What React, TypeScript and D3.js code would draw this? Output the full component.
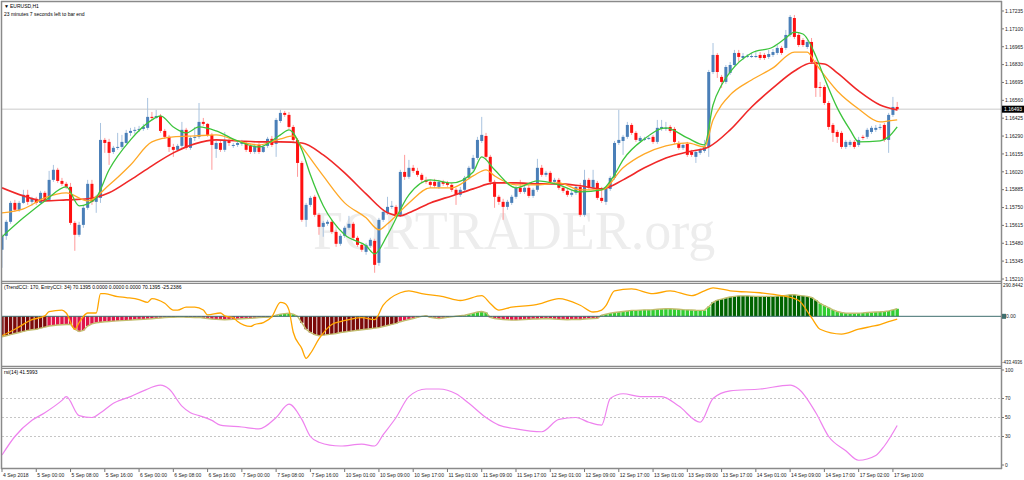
import React from "react";
import * as d3 from "d3";

// ---------- price data (EURUSD H1) ----------
const opens = [
1.15431,1.15536,1.15642,1.15785,1.15733,1.15785,1.15846,1.15793,1.15816,1.15785,
1.15861,1.15808,1.15959,1.16035,1.15951,1.15929,1.15906,1.15634,1.15544,1.15619,
1.15748,1.15929,1.15793,1.15823,1.16261,1.16246,1.16170,1.16201,1.16208,1.16238,
1.16314,1.16329,1.16337,1.16344,1.16352,1.16435,1.16427,1.16442,1.16329,1.16284,
1.16208,1.16186,1.16216,1.16337,1.16201,1.16276,1.16284,1.16397,1.16382,1.16299,
1.16193,1.16238,1.16186,1.16253,1.16216,1.16223,1.16231,1.16238,1.16216,1.16170,
1.16223,1.16170,1.16216,1.16269,1.16231,1.16404,1.16465,1.16450,1.16359,1.16261,
1.16087,1.15657,1.15770,1.15831,1.15695,1.15604,1.15627,1.15642,1.15566,1.15476,
1.15536,1.15597,1.15627,1.15521,1.15468,1.15415,1.15461,1.15498,1.15332,1.15657,
1.15710,1.15755,1.15755,1.15695,1.16019,1.15982,1.16050,1.16027,1.15997,1.15959,
1.15944,1.15944,1.15906,1.15944,1.15936,1.15921,1.15884,1.15846,1.15884,1.15974,
1.16042,1.16125,1.16253,1.16291,1.16133,1.15944,1.15831,1.15793,1.15755,1.15785,
1.15831,1.15899,1.15868,1.15899,1.15838,1.15884,1.16050,1.15997,1.16012,1.15944,
1.15959,1.15899,1.15876,1.15846,1.15861,1.15906,1.15695,1.15959,1.15899,1.15936,
1.15823,1.15793,1.15891,1.15974,1.16238,1.16253,1.16284,1.16374,1.16314,1.16253,
1.16261,1.16269,1.16284,1.16246,1.16344,1.16344,1.16359,1.16344,1.16238,1.16201,
1.16231,1.16170,1.16133,1.16163,1.16178,1.16208,1.16774,1.16903,1.16737,1.16699,
1.16767,1.16827,1.16918,1.16880,1.16888,1.16888,1.16888,1.16903,1.16903,1.16888,
1.16903,1.16918,1.16956,1.16956,1.17054,1.17182,1.17054,1.17016,1.16963,1.17001,
1.16850,1.16661,1.16661,1.16540,1.16374,1.16321,1.16314,1.16208,1.16223,1.16246,
1.16223,1.16284,1.16284,1.16321,1.16337,1.16352,1.16374,1.16261,1.16450,1.16510];

const highs = [
1.15551,1.15657,1.15800,1.15808,1.15800,1.15884,1.15884,1.15831,1.15831,1.15876,
1.15876,1.16027,1.16072,1.16050,1.15974,1.15944,1.15936,1.15649,1.15642,1.15763,
1.15959,1.15959,1.15846,1.16389,1.16276,1.16269,1.16216,1.16314,1.16299,1.16337,
1.16352,1.16359,1.16367,1.16382,1.16578,1.16472,1.16488,1.16457,1.16344,1.16299,
1.16231,1.16231,1.16397,1.16352,1.16291,1.16359,1.16540,1.16427,1.16389,1.16314,
1.16253,1.16253,1.16321,1.16269,1.16238,1.16253,1.16261,1.16253,1.16231,1.16231,
1.16238,1.16223,1.16284,1.16291,1.16427,1.16488,1.16480,1.16472,1.16374,1.16276,
1.16102,1.15785,1.15838,1.15846,1.15710,1.15649,1.15657,1.15657,1.15582,1.15551,
1.15612,1.15687,1.15642,1.15536,1.15483,1.15483,1.15521,1.15514,1.15672,1.15733,
1.15831,1.15800,1.15770,1.16035,1.16148,1.16110,1.16072,1.16050,1.16012,1.15982,
1.15959,1.15967,1.15959,1.15959,1.15951,1.15936,1.15899,1.15906,1.15989,1.16065,
1.16148,1.16284,1.16435,1.16314,1.16148,1.15959,1.15846,1.15816,1.15808,1.15846,
1.15914,1.15959,1.15914,1.15921,1.15899,1.16118,1.16072,1.16027,1.16027,1.15974,
1.15974,1.15914,1.15891,1.15884,1.15921,1.15936,1.16035,1.15974,1.16035,1.15951,
1.15906,1.15906,1.15989,1.16253,1.16488,1.16299,1.16397,1.16389,1.16329,1.16291,
1.16284,1.16291,1.16299,1.16412,1.16412,1.16397,1.16374,1.16359,1.16253,1.16238,
1.16246,1.16186,1.16186,1.16201,1.16261,1.16790,1.16993,1.16918,1.16752,1.16827,
1.16850,1.16941,1.16941,1.16918,1.16910,1.16918,1.16925,1.16925,1.16918,1.16941,
1.16948,1.16978,1.16971,1.17092,1.17205,1.17205,1.17069,1.17031,1.17016,1.17031,
1.16865,1.16699,1.16676,1.16555,1.16389,1.16337,1.16329,1.16261,1.16261,1.16261,
1.16284,1.16299,1.16352,1.16367,1.16374,1.16382,1.16389,1.16465,1.16586,1.16548];

const lows = [
1.15295,1.15506,1.15627,1.15717,1.15717,1.15778,1.15770,1.15763,1.15770,1.15778,
1.15793,1.15800,1.15944,1.15936,1.15914,1.15891,1.15619,1.15423,1.15529,1.15597,
1.15733,1.15770,1.15710,1.15785,1.16163,1.16072,1.16155,1.16186,1.16193,1.16231,
1.16291,1.16306,1.16321,1.16329,1.16337,1.16412,1.16420,1.16314,1.16269,1.16170,
1.16133,1.16178,1.16201,1.16186,1.16186,1.16253,1.16269,1.16367,1.16284,1.16035,
1.16125,1.16170,1.16170,1.16216,1.16201,1.16208,1.16216,1.16170,1.16155,1.16155,
1.16155,1.16163,1.16201,1.16208,1.16133,1.16389,1.16435,1.16344,1.16246,1.15982,
1.15642,1.15604,1.15755,1.15680,1.15544,1.15529,1.15612,1.15551,1.15453,1.15461,
1.15521,1.15582,1.15506,1.15453,1.15415,1.15393,1.15446,1.15257,1.15310,1.15642,
1.15695,1.15740,1.15680,1.15680,1.15959,1.15967,1.16012,1.15982,1.15936,1.15929,
1.15899,1.15899,1.15891,1.15914,1.15906,1.15868,1.15770,1.15831,1.15868,1.15959,
1.16027,1.16110,1.16238,1.16110,1.15921,1.15748,1.15770,1.15657,1.15733,1.15770,
1.15816,1.15853,1.15853,1.15823,1.15823,1.15868,1.15982,1.15982,1.15929,1.15929,
1.15884,1.15861,1.15831,1.15831,1.15846,1.15680,1.15680,1.15884,1.15884,1.15808,
1.15785,1.15770,1.15876,1.15959,1.16223,1.16148,1.16269,1.16299,1.16246,1.16238,
1.16253,1.16261,1.16231,1.16231,1.16329,1.16329,1.16314,1.16231,1.16186,1.16186,
1.16133,1.16133,1.16087,1.16148,1.16163,1.16133,1.16759,1.16729,1.16654,1.16684,
1.16752,1.16812,1.16850,1.16865,1.16880,1.16880,1.16880,1.16865,1.16865,1.16873,
1.16888,1.16903,1.16903,1.16941,1.17039,1.17024,1.16963,1.16963,1.16948,1.16835,
1.16586,1.16586,1.16525,1.16337,1.16246,1.16238,1.16193,1.16193,1.16208,1.16193,
1.16208,1.16261,1.16269,1.16306,1.16321,1.16337,1.16246,1.16163,1.16435,1.16480];

const closes = [
1.15536,1.15642,1.15785,1.15733,1.15785,1.15846,1.15793,1.15816,1.15785,1.15861,
1.15808,1.15959,1.16035,1.15951,1.15929,1.15906,1.15634,1.15544,1.15619,1.15748,
1.15929,1.15793,1.15831,1.16261,1.16238,1.16163,1.16201,1.16208,1.16246,1.16314,
1.16329,1.16337,1.16344,1.16359,1.16435,1.16427,1.16442,1.16329,1.16284,1.16208,
1.16186,1.16216,1.16337,1.16201,1.16276,1.16284,1.16397,1.16382,1.16299,1.16223,
1.16238,1.16186,1.16261,1.16238,1.16223,1.16238,1.16246,1.16186,1.16170,1.16216,
1.16170,1.16208,1.16269,1.16223,1.16412,1.16465,1.16450,1.16359,1.16261,1.16087,
1.15657,1.15770,1.15823,1.15695,1.15604,1.15634,1.15642,1.15566,1.15476,1.15536,
1.15597,1.15627,1.15521,1.15468,1.15431,1.15468,1.15506,1.15317,1.15657,1.15717,
1.15755,1.15763,1.15695,1.16019,1.15982,1.16050,1.16027,1.15997,1.15959,1.15944,
1.15921,1.15914,1.15944,1.15929,1.15921,1.15884,1.15846,1.15884,1.15974,1.16050,
1.16125,1.16261,1.16299,1.16133,1.15944,1.15831,1.15793,1.15755,1.15793,1.15831,
1.15899,1.15868,1.15899,1.15838,1.15884,1.16050,1.15997,1.16012,1.15944,1.15959,
1.15899,1.15876,1.15846,1.15861,1.15906,1.15695,1.15959,1.15899,1.15959,1.15823,
1.15800,1.15891,1.15974,1.16238,1.16261,1.16284,1.16374,1.16314,1.16261,1.16276,
1.16269,1.16276,1.16246,1.16352,1.16359,1.16352,1.16329,1.16246,1.16201,1.16223,
1.16148,1.16148,1.16170,1.16186,1.16208,1.16774,1.16903,1.16774,1.16699,1.16812,
1.16827,1.16918,1.16888,1.16895,1.16895,1.16895,1.16895,1.16880,1.16880,1.16910,
1.16925,1.16956,1.16918,1.17054,1.17190,1.17039,1.16978,1.16978,1.17001,1.16850,
1.16654,1.16654,1.16540,1.16359,1.16314,1.16284,1.16208,1.16246,1.16246,1.16208,
1.16261,1.16276,1.16337,1.16352,1.16352,1.16359,1.16261,1.16450,1.16510,1.16493];

const fastMaIdx = [0,5,10,15,18,20,22,25,30,35,37,40,43,46,50,55,60,65,67,70,72,75,80,85,87,90,95,100,105,110,112,115,120,125,130,135,140,143,145,150,155,160,164,166,168,170,175,180,183,185,187,190,192,195,198,200,205,207,209];
const fastMaVal = [1.15529,1.15672,1.15800,1.15906,1.15763,1.15778,1.15823,1.16035,1.16261,1.16412,1.16442,1.16359,1.16314,1.16359,1.16329,1.16253,1.16208,1.16299,1.16337,1.16186,1.15997,1.15763,1.15544,1.15461,1.15400,1.15544,1.15846,1.15959,1.15936,1.16019,1.16133,1.16035,1.15899,1.15951,1.15921,1.15868,1.15884,1.15997,1.16110,1.16269,1.16352,1.16276,1.16223,1.16525,1.16676,1.16774,1.16918,1.16963,1.17031,1.17076,1.17061,1.16895,1.16729,1.16503,1.16337,1.16246,1.16253,1.16284,1.16359];

const midMaIdx = [0,5,10,15,20,25,30,35,40,45,50,55,60,65,68,70,75,80,85,88,90,95,100,105,110,113,115,120,125,130,135,140,145,150,155,160,164,166,168,170,175,180,185,188,190,195,200,205,207,209];
const midMaVal = [1.15710,1.15740,1.15823,1.15861,1.15800,1.15921,1.16072,1.16246,1.16284,1.16291,1.16299,1.16253,1.16223,1.16269,1.16291,1.16208,1.15989,1.15785,1.15672,1.15582,1.15627,1.15785,1.15899,1.15899,1.15989,1.16035,1.15989,1.15921,1.15921,1.15936,1.15884,1.15884,1.16050,1.16155,1.16216,1.16238,1.16208,1.16412,1.16525,1.16601,1.16714,1.16805,1.16925,1.16925,1.16835,1.16631,1.16495,1.16397,1.16404,1.16412];

const slowMaIdx = [0,5,10,15,20,25,30,35,40,45,50,55,60,65,70,75,80,85,90,93,95,100,105,110,115,120,125,130,135,140,145,150,155,160,165,170,175,180,185,189,192,195,200,205,209];
const slowMaVal = [1.15899,1.15838,1.15800,1.15808,1.15816,1.15861,1.15959,1.16065,1.16163,1.16231,1.16261,1.16253,1.16246,1.16246,1.16238,1.16148,1.16012,1.15853,1.15710,1.15687,1.15710,1.15785,1.15838,1.15891,1.15936,1.15936,1.15929,1.15929,1.15914,1.15891,1.15959,1.16050,1.16125,1.16170,1.16208,1.16337,1.16510,1.16654,1.16782,1.16842,1.16835,1.16767,1.16631,1.16525,1.16488];

// CCI panel
const trendCci = [
-190,-180,-170,-160,-150,-140,-130,-125,-120,-110,
-100,-90,-85,-80,-78,-76,-76,-120,-140,-130,
-90,-70,-60,-55,-50,-48,-45,-42,-40,-38,
-35,-32,-30,-28,-25,-22,-18,-15,-12,-10,
-8,-6,-5,-8,-10,-12,-10,-15,-20,-25,
-28,-30,-32,-30,-28,-25,-22,-20,-18,-15,
-12,-10,-8,-5,10,20,25,30,20,0,
-60,-120,-150,-170,-180,-175,-170,-165,-160,-150,
-145,-140,-135,-130,-125,-120,-115,-110,-105,-95,
-85,-75,-65,-50,-40,-30,-20,-10,0,5,
-10,-15,-20,-15,-10,-5,0,5,10,20,
30,40,45,35,-10,-20,-25,-30,-32,-35,
-35,-33,-30,-28,-25,-25,-22,-20,-22,-25,
-28,-30,-32,-30,-28,-30,-25,-22,-20,-18,
10,20,30,35,40,45,50,55,55,58,
60,60,62,65,68,70,70,68,65,62,
60,58,56,55,55,90,130,150,160,170,
180,185,190,190,190,188,185,185,185,185,
185,188,190,195,200,200,195,190,185,175,
150,120,100,80,60,45,35,30,28,28,
30,32,35,38,40,42,45,50,60,70.1395];
const cciSegStart = [0, 11, 64, 69, 70, 93, 108, 114, 140, 166, 191];
const cciSegColor = ["#7b0a0a","#e0144a","#32cd32","#e0144a","#7b0a0a","#e0144a","#32cd32","#e0144a","#32cd32","#006400","#32cd32"];
const entryCciIdx = [0,3,7,10,11,14,15,17,18,20,22,23,24,27,29,32,34,35,38,40,41,43,45,47,48,51,52,54,55,58,59,61,63,65,66,67,68,70,71,72,74,77,79,81,84,87,89,93,95,98,103,107,112,114,116,119,124,126,130,135,138,140,141,143,147,152,156,161,164,166,170,177,182,186,189,191,196,200,203,205,207,209];
const entryCciVal = [-180,-120,-31,4,43,58,31,-120,-58,31,31,210,210,183,174,156,130,165,121,58,58,85,85,58,13,31,4,-13,-49,-94,-76,-58,-4,130,121,58,-148,-300,-390,-345,-210,-76,-49,-31,-13,-31,103,219,237,210,183,147,192,120,58,85,103,121,165,103,40,58,100,237,255,210,237,192,237,264,237,219,192,147,-13,-120,-165,-120,-94,-76,-49,-25.2386];

// RSI panel
const rsiIdx = [0,3,7,10,14,15,18,21,23,26,30,33,37,39,42,44,46,49,51,56,60,64,67,70,72,74,79,84,87,89,92,95,99,102,106,109,113,116,120,126,130,134,137,140,142,145,149,154,158,163,166,170,177,184,186,190,193,197,200,204,206,209];
const rsiVal = [10.5,30,47,55,68,72,52,50,55,65,72,78,84,80,62,55,52,47,42,40,38,50,64,48,30,24,20,22,20,32,50,72,80,80,75,65,50,42,38,35,48,50,45,42,70,75,72,72,62,45,70,78,80,84,80,55,30,15,5,10,20,41.5993];
const rsiLevels = [70, 50, 30];
const rsiTicks = [100, 70, 50, 30, 0];

// axes
const priceTicks = [1.17235,1.171,1.16965,1.1683,1.16695,1.1656,1.16425,1.1629,1.16155,1.1602,1.15885,1.1575,1.15615,1.1548,1.15345,1.1521];
const timeLabels = ["4 Sep 2018","5 Sep 00:00","5 Sep 08:00","5 Sep 16:00","6 Sep 00:00","6 Sep 08:00","6 Sep 16:00","7 Sep 00:00","7 Sep 08:00","7 Sep 16:00","10 Sep 01:00","10 Sep 09:00","10 Sep 17:00","11 Sep 01:00","11 Sep 09:00","11 Sep 17:00","12 Sep 01:00","12 Sep 09:00","12 Sep 17:00","13 Sep 01:00","13 Sep 09:00","13 Sep 17:00","14 Sep 01:00","14 Sep 09:00","14 Sep 17:00","17 Sep 02:00","17 Sep 10:00"];
const lastPrice = 1.16493;
const cciMax = 290.8442;
const cciMin = -433.4936;

const FONT = "'Liberation Sans', Arial, sans-serif";

export default function App() {
  const n = closes.length;
  const x = d3.scaleLinear().domain([0, n - 1]).range([2, 897.2]);
  const yP = d3.scaleLinear().domain([1.1521, 1.17235]).range([279, 11]);
  const yC = d3.scaleLinear().domain([cciMin, cciMax]).range([363, 285]);
  const yR = d3.scaleLinear().domain([0, 100]).range([465, 370]);

  const maLine = (idx: number[], val: number[]) =>
    d3.line<number>().x((_, k) => x(idx[k])).y((v) => yP(v)).curve(d3.curveMonotoneX)(val) || "";
  const cciLine = d3.line<number>().x((_, k) => x(k)).y((v) => yC(v))(trendCci) || "";
  const entryLine = d3.line<number>().x((_, k) => x(entryCciIdx[k])).y((v) => yC(v)).curve(d3.curveMonotoneX)(entryCciVal) || "";
  const rsiLine = d3.line<number>().x((_, k) => x(rsiIdx[k])).y((v) => yR(v)).curve(d3.curveMonotoneX)(rsiVal) || "";

  const colorOf = (i: number) => {
    let c = cciSegColor[0];
    for (let s = 0; s < cciSegStart.length; s++) if (i >= cciSegStart[s]) c = cciSegColor[s];
    return c;
  };

  const frame = "#8a8a8a";
  return (
    <svg width={1024} height={480} style={{ position: "fixed", left: 0, top: 0, background: "#fff" }} fontFamily={FONT}>
      <defs>
        <clipPath id="mainClip"><rect x={2} y={2} width={999} height={279} /></clipPath>
        <clipPath id="cciClip"><rect x={2} y={284} width={999} height={82} /></clipPath>
        <clipPath id="rsiClip"><rect x={2} y={369} width={999} height={99} /></clipPath>
      </defs>
      <rect x={0} y={0} width={1024} height={480} fill="#fff" />

      {/* ----- main panel ----- */}
      <g clipPath="url(#mainClip)">
        <text x={313} y={249} fontFamily="'Liberation Serif', 'Times New Roman', serif" fontSize={54} fill="#ededed">FORTRADER.org</text>
        <line x1={2} x2={1001} y1={yP(lastPrice)} y2={yP(lastPrice)} stroke="#dcdcdc" strokeWidth={1.5} />
        {closes.map((c, i) => {
          const o = opens[i];
          const up = c >= o;
          const cx = x(i);
          const top = yP(Math.max(o, c));
          const h = Math.max(1, Math.abs(yP(o) - yP(c)));
          return (
            <g key={i}>
              <line x1={cx} x2={cx} y1={yP(highs[i])} y2={yP(lows[i])} stroke={up ? "#a9c3df" : "#ff9a9a"} strokeWidth={1} />
              <rect x={cx - 1.5} y={top} width={3} height={h} fill={up ? "#4a7fb8" : "#ff1010"} />
            </g>
          );
        })}
        <path d={maLine(slowMaIdx, slowMaVal)} fill="none" stroke="#f02828" strokeWidth={1.6} />
        <path d={maLine(midMaIdx, midMaVal)} fill="none" stroke="#ffa826" strokeWidth={1.3} />
        <path d={maLine(fastMaIdx, fastMaVal)} fill="none" stroke="#3cc43c" strokeWidth={1.3} />
      </g>
      <text x={4} y={7.5} fontSize={5} fill="#000">▼</text>
      <text x={10} y={7.5} fontSize={5} fill="#000">EURUSD,H1</text>
      <text x={4} y={16} fontSize={5} fill="#000">23 minutes 7 seconds left to bar end</text>

      {/* ----- CCI panel ----- */}
      <g clipPath="url(#cciClip)">
        {trendCci.map((v, i) => (
          <rect key={i} x={x(i) - 1.7} width={3.4} y={Math.min(yC(v), yC(0))} height={Math.abs(yC(v) - yC(0))} fill={colorOf(i)} />
        ))}
        <path d={cciLine} fill="none" stroke="#c2bd6e" strokeWidth={1.4} />
        <line x1={2} x2={1001} y1={yC(0)} y2={yC(0)} stroke="#3f6f6f" strokeWidth={1} />
        <path d={entryLine} fill="none" stroke="#ffa500" strokeWidth={1.3} />
      </g>
      <text x={4} y={289} fontSize={5} fill="#000">(TrendCCI: 170, EntryCCI: 34)  70.1395 0.0000 0.0000 0.0000 70.1395 -25.2386</text>

      {/* ----- RSI panel ----- */}
      <g clipPath="url(#rsiClip)">
        {rsiLevels.map((l) => (
          <line key={l} x1={2} x2={1001} y1={yR(l)} y2={yR(l)} stroke="#b8b8b8" strokeWidth={0.8} strokeDasharray="2,2" />
        ))}
        <path d={rsiLine} fill="none" stroke="#ee82ee" strokeWidth={1.2} />
      </g>
      <text x={4} y={374} fontSize={5} fill="#000">rsi(14) 41.5993</text>

      {/* ----- frames ----- */}
      <line x1={1} x2={1002} y1={1.5} y2={1.5} stroke={frame} strokeWidth={1.5} />
      <line x1={1.5} x2={1.5} y1={1} y2={469} stroke={frame} strokeWidth={1.5} />
      <line x1={1001.5} x2={1001.5} y1={1} y2={469} stroke={frame} strokeWidth={1.5} />
      <line x1={1} x2={1002} y1={281.5} y2={281.5} stroke={frame} strokeWidth={1.5} />
      <line x1={1} x2={1002} y1={283.5} y2={283.5} stroke={frame} strokeWidth={1} />
      <line x1={1} x2={1002} y1={366.5} y2={366.5} stroke={frame} strokeWidth={1.5} />
      <line x1={1} x2={1002} y1={368.5} y2={368.5} stroke={frame} strokeWidth={1} />
      <line x1={1} x2={1002} y1={468.5} y2={468.5} stroke={frame} strokeWidth={1.5} />

      {/* price axis */}
      {priceTicks.map((p) => (
        <g key={p}>
          <line x1={1002} x2={1004} y1={yP(p)} y2={yP(p)} stroke="#555" strokeWidth={0.8} />
          <text x={1005} y={yP(p) + 1.8} fontSize={5} fill="#222">{p.toFixed(5)}</text>
        </g>
      ))}
      <rect x={1002} y={yP(lastPrice) - 3.5} width={22} height={7} fill="#000" />
      <text x={1004} y={yP(lastPrice) + 1.8} fontSize={5} fill="#fff">{lastPrice.toFixed(5)}</text>

      {/* CCI axis */}
      <text x={1003} y={287} fontSize={4.8} fill="#222">{cciMax.toFixed(4)}</text>
      <rect x={1002} y={yC(0) - 2.5} width={4} height={5} fill="#3f6f6f" />
      <text x={1006} y={yC(0) + 1.8} fontSize={5} fill="#222">0.00</text>
      <text x={1002} y={364} fontSize={4.5} fill="#222">{cciMin.toFixed(4)}</text>

      {/* RSI axis */}
      {rsiTicks.map((t) => (
        <g key={t}>
          <line x1={1002} x2={1004} y1={yR(t)} y2={yR(t)} stroke="#555" strokeWidth={0.8} />
          <text x={1005} y={yR(t) + 1.8} fontSize={5} fill="#222">{t}</text>
        </g>
      ))}

      {/* time axis */}
      {timeLabels.map((t, k) => (
        <g key={t}>
          <line x1={x(k * 8)} x2={x(k * 8)} y1={469} y2={472} stroke="#555" strokeWidth={0.8} />
          <text x={x(k * 8) + 1} y={476.5} fontSize={5} fill="#222">{t}</text>
        </g>
      ))}
    </svg>
  );
}
